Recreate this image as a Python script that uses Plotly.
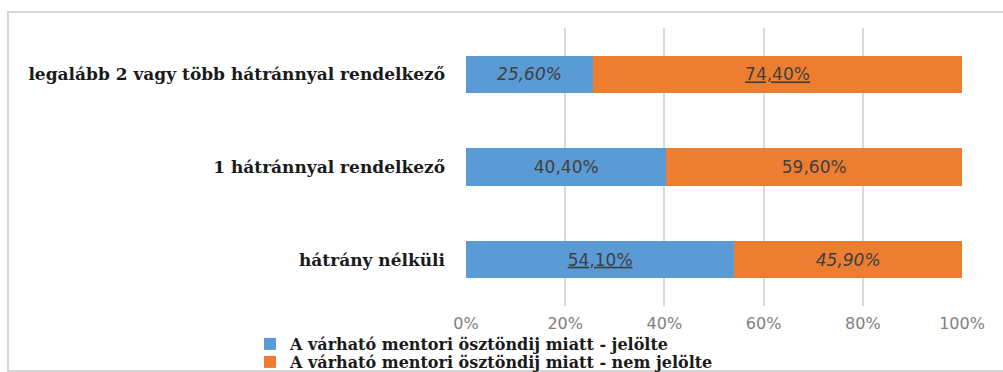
import plotly.graph_objects as go

categories = ["hátrány nélküli", "1 hátránnyal rendelkező", "legalább 2 vagy több hátránnyal rendelkező"]
series_names = ["A várható mentori ösztöndij miatt - jelölte", "A várható mentori ösztöndij miatt - nem jelölte"]
jelolte = [54.1, 40.4, 25.6]
nem_jelolte = [45.9, 59.6, 74.4]
tick_vals = [0, 20, 40, 60, 80, 100]
tick_text = ["0%", "20%", "40%", "60%", "80%", "100%"]

# label styling (italic / underline) as seen in the source picture
style_jelolte = ["u", "", "i"]
style_nem = ["i", "", "u"]

def fmt(v, st):
    s = f"{v:.2f}".replace(".", ",") + "%"
    return f"<{st}>{s}</{st}>" if st else s

colors = ["#5B9BD5", "#ED7D31"]

fig = go.Figure()
for name, vals, sty, col, lg in [(series_names[0], jelolte, style_jelolte, colors[0], "legend"),
                                 (series_names[1], nem_jelolte, style_nem, colors[1], "legend2")]:
    fig.add_trace(go.Bar(
        y=categories, x=vals, name=name, orientation="h",
        marker=dict(color=col, line=dict(width=0)),
        text=[fmt(v, s) for v, s in zip(vals, sty)],
        textposition="inside", insidetextanchor="middle",
        textfont=dict(family="DejaVu Sans", size=17, color="#404040"),
        width=0.4, hoverinfo="skip", legend=lg,
    ))

W, H = 1003, 372
ml, mr, mt, mb = 466, 41, 28, 66
pw, ph = W - ml - mr, H - mt - mb

def px_x(p):
    return (p - ml) / pw

def px_y(p):
    return (H - mb - p) / ph

legend_font = dict(family="DejaVu Serif", size=16, color="#1A1A1A", weight="bold")

fig.update_layout(
    width=W, height=H, barmode="stack",
    margin=dict(l=ml, r=mr, t=mt, b=mb, pad=0, autoexpand=False),
    paper_bgcolor="white", plot_bgcolor="white",
    xaxis=dict(range=[0, 100], tickvals=tick_vals, ticktext=tick_text,
               showgrid=True, gridcolor="#D9D9D9", gridwidth=2,
               zeroline=False, showline=False, ticks="",
               tickfont=dict(family="DejaVu Sans", size=16, color="#808080"),
               ticklabelstandoff=6, fixedrange=True),
    yaxis=dict(categoryorder="array", categoryarray=categories,
               showgrid=False, zeroline=False, showline=False, ticks="",
               tickfont=dict(family="DejaVu Serif", size=17, color="#1A1A1A", weight="bold"),
               ticklabelstandoff=20, fixedrange=True),
    legend=dict(x=px_x(250), y=px_y(344), xanchor="left", yanchor="middle",
                font=legend_font, bgcolor="rgba(0,0,0,0)", itemwidth=30),
    legend2=dict(x=px_x(250), y=px_y(362), xanchor="left", yanchor="middle",
                 font=legend_font, bgcolor="rgba(0,0,0,0)", itemwidth=30),
    showlegend=True,
    shapes=[dict(type="rect", xref="paper", yref="paper",
                 x0=px_x(8), x1=px_x(1012), y0=px_y(371), y1=px_y(12),
                 line=dict(color="#D6D6D6", width=2), layer="below")],
)

fig.write_html("out.html")
